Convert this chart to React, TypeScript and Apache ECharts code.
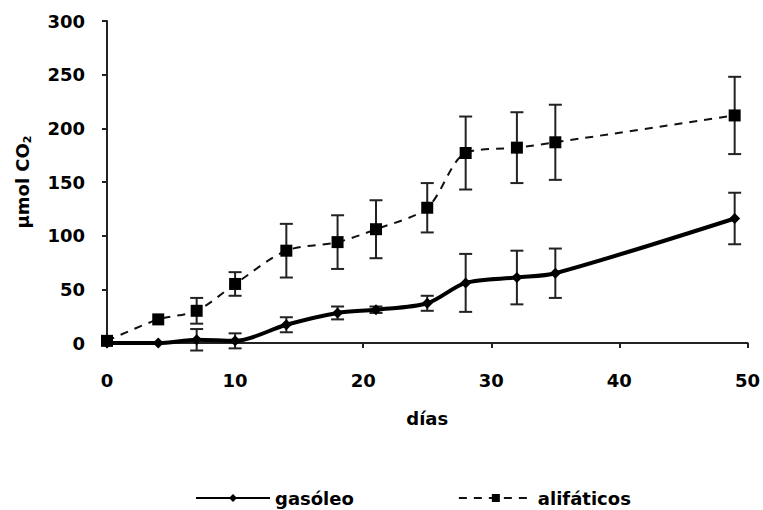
import React, { useEffect, useRef } from "react";
import * as echarts from "echarts";

const days = [0, 4, 7, 10, 14, 18, 21, 25, 28, 32, 35, 49];
const gasoleo = [0, 0, 3, 2, 17, 28, 31, 37, 56, 61, 65, 116];
const gasoleoErr = [0, 0, 10, 7, 7, 6, 3, 7, 27, 25, 23, 24];
const alifaticos = [2, 22, 30, 55, 86, 94, 106, 126, 177, 182, 187, 212];
const alifaticosErr = [0, 0, 12, 11, 25, 25, 27, 23, 34, 33, 35, 36];
const xTicks = [0, 10, 20, 30, 40, 50];
const yTicks = [0, 50, 100, 150, 200, 250, 300];

const FONT = "'DejaVu Sans', sans-serif";

function errSeries(vals: number[], errs: number[], color: string) {
  const data = days
    .map((d, i) => [d, vals[i] - errs[i], vals[i] + errs[i]])
    .filter((_, i) => errs[i] > 0);
  return {
    type: "custom",
    data,
    z: 1,
    silent: true,
    renderItem: (params: any, api: any) => {
      const x = api.value(0);
      const lo = api.coord([x, api.value(1)]);
      const hi = api.coord([x, api.value(2)]);
      const w = 6.5;
      const style = { stroke: color, lineWidth: 2 };
      return {
        type: "group",
        children: [
          { type: "line", shape: { x1: lo[0], y1: lo[1], x2: hi[0], y2: hi[1] }, style },
          { type: "line", shape: { x1: lo[0] - w, y1: lo[1], x2: lo[0] + w, y2: lo[1] }, style },
          { type: "line", shape: { x1: hi[0] - w, y1: hi[1], x2: hi[0] + w, y2: hi[1] }, style },
        ],
      };
    },
  };
}

export default function App() {
  const ref = useRef<HTMLDivElement>(null);
  useEffect(() => {
    if (!ref.current) return;
    const chart = echarts.init(ref.current, undefined, { renderer: "svg" });
    const txt = { fontFamily: FONT, fontSize: 18, fontWeight: "bold", color: "#000" };
    chart.setOption({
      animation: false,
      textStyle: { fontFamily: FONT },
      grid: { left: 107, right: 11, top: 21, bottom: 167 },
      legend: {
        top: 484,
        left: 190,
        itemWidth: 74,
        itemHeight: 10,
        itemGap: 104,
        textStyle: txt,
        data: ["gasóleo", "alifáticos"],
      },
      xAxis: {
        type: "value",
        min: 0,
        max: 50,
        interval: 10,
        name: "días",
        nameLocation: "middle",
        nameGap: 66,
        nameTextStyle: txt,
        axisLine: { show: true, lineStyle: { color: "#222", width: 2 } },
        axisTick: { show: true, length: 5, lineStyle: { color: "#222", width: 2 } },
        axisLabel: {
          margin: 28,
          ...txt,
          formatter: (v: number) => (xTicks.includes(v) ? String(v) : ""),
        },
        splitLine: { show: false },
      },
      yAxis: {
        type: "value",
        min: 0,
        max: 300,
        interval: 50,
        name: "µmol CO{sub|2}",
        nameLocation: "middle",
        nameRotate: 90,
        nameGap: 74,
        nameTextStyle: {
          ...txt,
          rich: {
            sub: { fontFamily: FONT, fontSize: 11, fontWeight: "bold", color: "#000", verticalAlign: "bottom", padding: [10, 0, 0, 0] },
          },
        },
        axisLine: { show: true, lineStyle: { color: "#222", width: 2 } },
        axisTick: { show: true, length: 5, lineStyle: { color: "#222", width: 2 } },
        axisLabel: {
          margin: 22,
          ...txt,
          formatter: (v: number) => (yTicks.includes(v) ? String(v) : ""),
        },
        splitLine: { show: false },
      },
      series: [
        errSeries(alifaticos, alifaticosErr, "#222"),
        errSeries(gasoleo, gasoleoErr, "#222"),
        {
          name: "alifáticos",
          type: "line",
          data: days.map((d, i) => [d, alifaticos[i]]),
          smooth: 0.3,
          symbol: "rect",
          symbolSize: 12,
          itemStyle: { color: "#000" },
          lineStyle: { color: "#111", width: 2, type: [8, 7] },
          z: 3,
        },
        {
          name: "gasóleo",
          type: "line",
          data: days.map((d, i) => [d, gasoleo[i]]),
          smooth: 0.3,
          symbol: "diamond",
          symbolSize: 11,
          itemStyle: { color: "#000" },
          lineStyle: { color: "#000", width: 4 },
          z: 4,
        },
      ],
    });
    return () => chart.dispose();
  }, []);
  return <div ref={ref} style={{ width: 763, height: 510, position: "absolute", left: 0, top: 0 }} />;
}
